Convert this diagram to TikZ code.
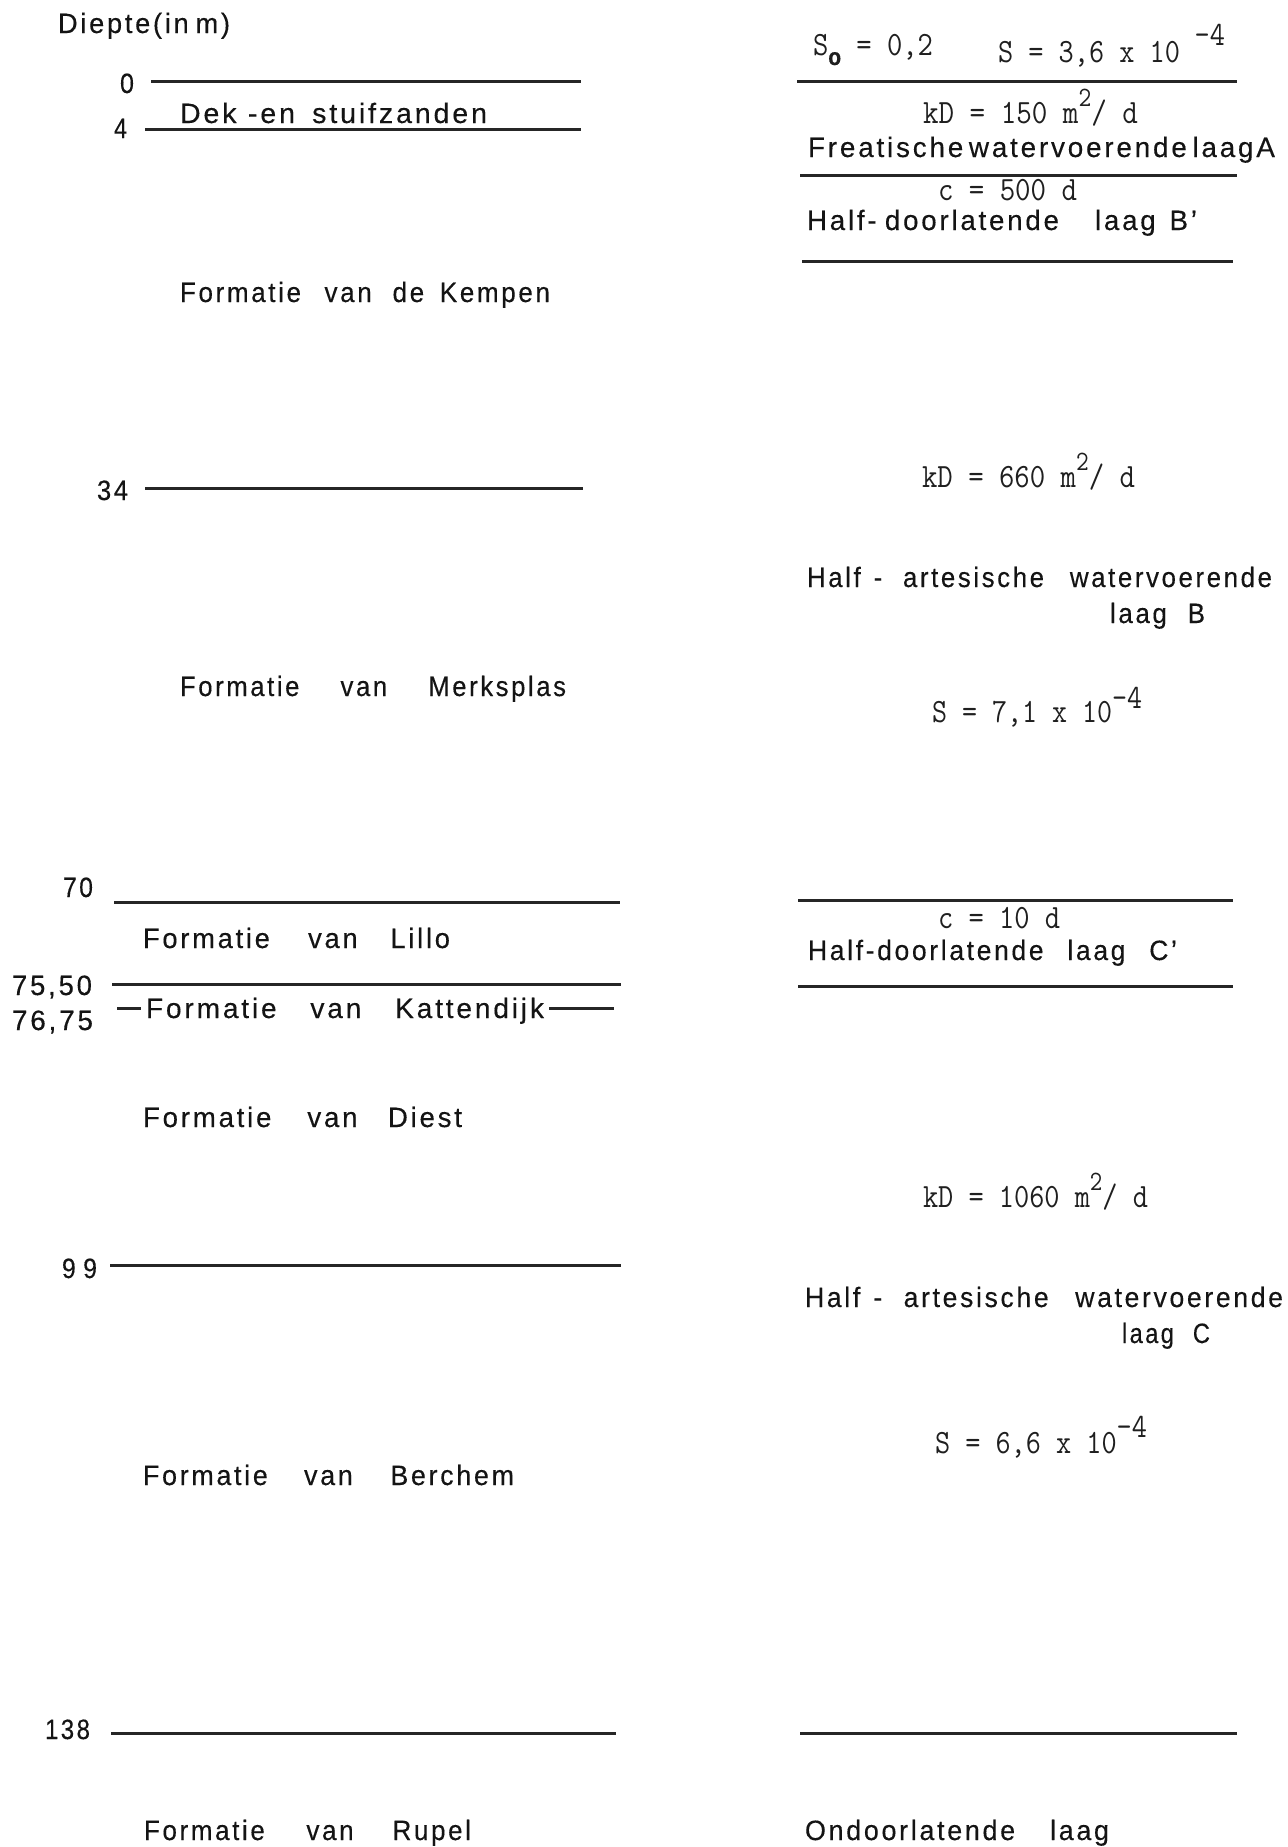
\documentclass[tikz,border=0pt]{standalone}
\usepackage{fontspec}
\setmainfont{Liberation Sans}[LetterSpace=10,FakeBold=0.3]
\usepackage{graphicx}
\newdimen\pxu \pxu=0.5pt
\newcommand\fw[2]{\resizebox{#1\pxu}{\height}{#2}}
\newcommand\gp[1]{\hspace{#1em}}
\newcommand\suptwo{\raisebox{0.5em}{\fontsize{14}{14}\selectfont 2}}
\tikzset{
  lbl/.style={anchor=base west, inner sep=0pt, outer sep=0pt, text=black!92, font=\fontsize{14}{16}\selectfont},
  eq/.style={anchor=base west, inner sep=0pt, outer sep=0pt, text=black!88, font=\fontsize{17}{19}\selectfont\ttfamily\addfontfeatures{FakeBold=0.6}},
  layer/.style={line width=1.5pt, black!85},
}
\begin{document}
\begin{tikzpicture}[x=0.5pt,y=-0.5pt]
\useasboundingbox (0,0) rectangle (1288,1847);
% ---------------- left column: depths and formations
\node[lbl] (diepte) at (58,33) {\fw{172}{Diepte(in\gp{0.25}m)}};
\node[lbl] (n0) at (120,93) {\fw{14}{0}};
\node[lbl] (dek) at (180,123) {\fw{307}{Dek\gp{0.4}-en\gp{0.6}stuifzanden}};
\node[lbl] (n4) at (114,138) {\fw{13}{4}};
\node[lbl] (kempen) at (180,302) {\fw{370}{Formatie\gp{0.9}van\gp{0.8}de\gp{0.6}Kempen}};
\node[lbl] (n34) at (97,500) {\fw{31}{34}};
\node[lbl] (merksplas) at (180,696) {\fw{386}{Formatie\gp{1.6}van\gp{1.6}Merksplas}};
\node[lbl] (n70) at (63,897) {\fw{30}{70}};
\node[lbl] (lillo) at (143,948) {\fw{307}{Formatie\gp{1.4}van\gp{1.2}Lillo}};
\node[lbl] (n7550) at (12,995) {\fw{80}{75,50}};
\node[lbl] (n7675) at (12,1030) {\fw{81}{76,75}};
\node[lbl] (katten) at (146,1018) {\fw{398}{Formatie\gp{1.2}van\gp{1.2}Kattendijk}};
\node[lbl] (diest) at (143,1127) {\fw{319}{Formatie\gp{1.3}van\gp{1.1}Diest}};
\node[lbl] (n99) at (62,1278) {\fw{35}{9\gp{0.3}9}};
\node[lbl] (berchem) at (143,1485) {\fw{371}{Formatie\gp{1.35}van\gp{1.4}Berchem}};
\node[lbl] (n138) at (45,1739) {\fw{45}{138}};
\node[lbl] (rupel) at (144,1840) {\fw{327}{Formatie\gp{1.6}van\gp{1.5}Rupel}};
% left boundaries
\draw[layer] (151,81) -- (581,81);
\draw[layer] (145,129) -- (581,129);
\draw[layer] (145,488) -- (583,488);
\draw[layer] (114,902) -- (620,902);
\draw[layer] (112,984) -- (621,984);
\draw[layer] (117,1008) -- (141,1008);
\draw[layer] (549,1008) -- (614,1008);
\draw[layer] (110,1265) -- (621,1265);
\draw[layer] (111,1733) -- (616,1733);
% ---------------- right column: hydrogeology
\node[eq] (so) at (813,55) {\fw{120}{S\raisebox{-5pt}{\fontsize{12}{12}\selectfont\rmfamily\bfseries o}\ = 0,2}};
\node[eq] (s1) at (998,62) {\fw{227}{S = 3,6 x 10\hspace{0.5em}\raisebox{8.5pt}{-4}}};
\node[eq] (kd1) at (923,123) {\fw{215}{kD = 150 m\suptwo/ d}};
\node[lbl] (freat) at (808,157) {\fw{467}{Freatische\gp{0.2}watervoerende\gp{0.2}laagA}};
\node[eq] (c1) at (938,200) {\fw{139}{c = 500 d}};
\node[lbl] (hdB) at (807,230) {\fw{390}{Half-\gp{0.3}doorlatende\gp{1.3}laag\gp{0.5}B’}};
\node[eq] (kd2) at (922,487) {\fw{213}{kD = 660 m\suptwo/ d}};
\node[lbl] (haB1) at (807,587) {\fw{465}{Half\gp{0.5}-\gp{0.8}artesische\gp{1.0}watervoerende}};
\node[lbl] (haB2) at (1110,623) {\fw{95}{laag\gp{0.8}B}};
\node[eq] (s2) at (932,722) {\fw{210}{S = 7,1 x 10\raisebox{7pt}{-4}}};
\node[eq] (c2) at (938,928) {\fw{122}{c = 10 d}};
\node[lbl] (hdC) at (808,960) {\fw{369}{Half-doorlatende\gp{0.9}laag\gp{0.9}C’}};
\node[eq] (kd3) at (923,1207) {\fw{225}{kD = 1060 m\suptwo/ d}};
\node[lbl] (haC1) at (805,1307) {\fw{478}{Half\gp{0.5}-\gp{0.8}artesische\gp{1.0}watervoerende}};
\node[lbl] (haC2) at (1122,1343) {\fw{88}{laag\gp{0.8}C}};
\node[eq] (s3) at (935,1453) {\fw{212}{S = 6,6 x 10\raisebox{8pt}{-4}}};
\node[lbl] (ondoor) at (805,1840) {\fw{304}{Ondoorlatende\gp{1.3}laag}};
% right boundaries
\draw[layer] (797,81) -- (1237,81);
\draw[layer] (800,175) -- (1237,175);
\draw[layer] (802,261) -- (1233,261);
\draw[layer] (798,900) -- (1233,900);
\draw[layer] (798,986) -- (1233,986);
\draw[layer] (800,1733) -- (1237,1733);
\end{tikzpicture}
\end{document}
